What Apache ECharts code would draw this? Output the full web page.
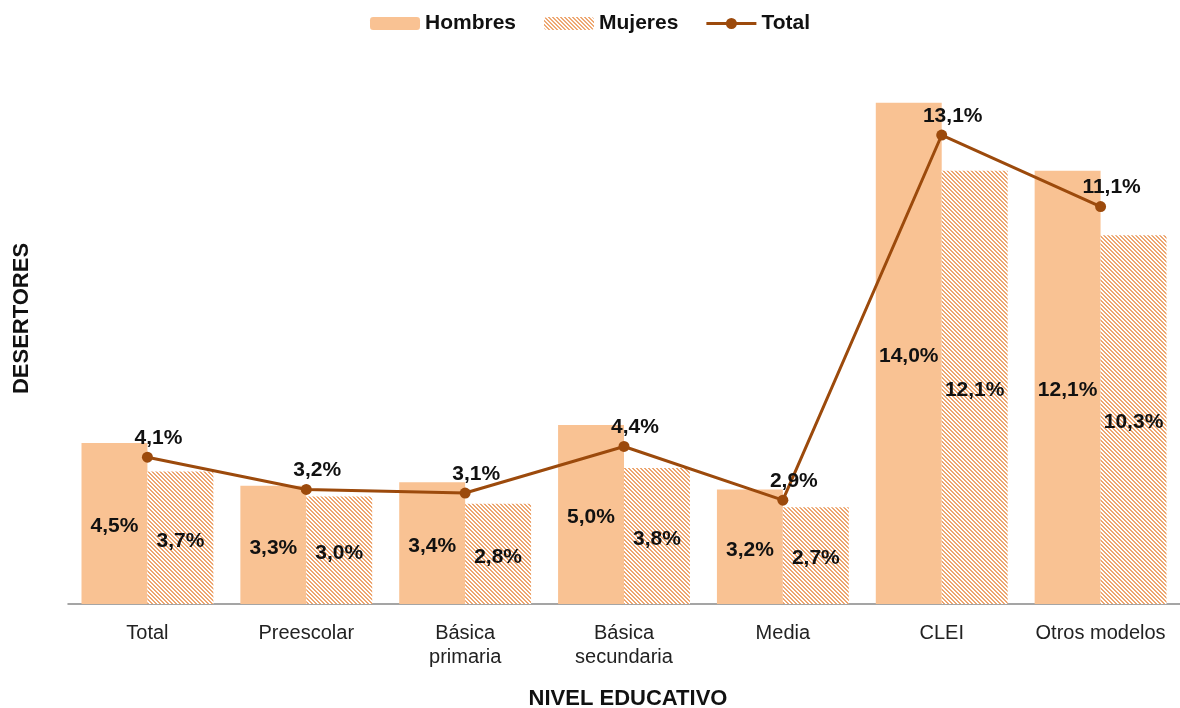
<!DOCTYPE html>
<html>
<head>
<meta charset="utf-8">
<style>
  html, body { margin: 0; padding: 0; background: #ffffff; }
  #chart { width: 1180px; height: 708px; }
</style>
<script src="https://cdn.jsdelivr.net/npm/echarts@6/dist/echarts.min.js"></script>
</head>
<body>
<div id="chart"></div>
<script>
// Tasa de deserción por nivel educativo (%)
const categories = ['Total', 'Preescolar', 'Básica\nprimaria', 'Básica\nsecundaria', 'Media', 'CLEI', 'Otros modelos'];
const hombres = [4.5, 3.3, 3.4, 5.0, 3.2, 14.0, 12.1];
const mujeres = [3.7, 3.0, 2.8, 3.8, 2.7, 12.1, 10.3];
const total = [4.1, 3.2, 3.1, 4.4, 2.9, 13.1, 11.1];

const FONT = '"Liberation Sans", Arial, sans-serif';
const fmt = p => p.value.toFixed(1).replace('.', ',') + '%';

// diagonal hatch for the women's bars
function hatch() {
  const c = document.createElement('canvas');
  c.width = 8; c.height = 8;
  const ctx = c.getContext('2d');
  ctx.fillStyle = '#ffffff';
  ctx.fillRect(0, 0, 8, 8);
  ctx.fillStyle = '#EDA670';
  for (let y = 0; y < 8; y++) {
    for (let x = 0; x < 8; x++) {
      const d = ((x - y) % 4 + 4) % 4;
      if (d < 2) ctx.fillRect(x, y, 1, 1);
    }
  }
  return c;
}
const pattern = { image: hatch(), repeat: 'repeat' };

const labelStyle = { fontSize: 21, fontWeight: 'bold', color: '#111', fontFamily: FONT };

const chart = echarts.init(document.getElementById('chart'));
chart.setOption({
  animation: false,
  textStyle: { fontFamily: FONT },
  legend: {
    top: 8,
    left: 'center',
    itemWidth: 50,
    itemHeight: 13,
    itemGap: 28,
    textStyle: { fontSize: 21, fontWeight: 'bold', color: '#111', fontFamily: FONT },
    data: [
      { name: 'Hombres' },
      { name: 'Mujeres' },
      { name: 'Total', icon: 'path://M0,9 H50 V12 H0 Z M30.5,10.5 A5.5,5.5 0 1 1 19.5,10.5 A5.5,5.5 0 1 1 30.5,10.5 Z' }
    ]
  },
  grid: { left: 68, right: 0, top: 67, bottom: 104, containLabel: false, outerBoundsMode: 'none' },
  xAxis: {
    type: 'category',
    data: categories,
    name: 'NIVEL EDUCATIVO',
    nameLocation: 'middle',
    nameGap: 84,
    nameTextStyle: { fontSize: 22, fontWeight: 'bold', color: '#111', fontFamily: FONT, padding: [0, 0, 0, 8] },
    axisLine: { lineStyle: { color: '#888', width: 1.5 } },
    axisTick: { show: false },
    axisLabel: { interval: 0, fontSize: 20, color: '#222', margin: 17, lineHeight: 24, fontFamily: FONT }
  },
  yAxis: {
    type: 'value',
    min: 0,
    max: 15,
    name: 'DESERTORES',
    nameLocation: 'middle',
    nameGap: 35,
    nameRotate: 90,
    nameTextStyle: { fontSize: 22, fontWeight: 'bold', color: '#111', fontFamily: FONT, padding: [0, 0, 0, 34] },
    axisLine: { show: false },
    axisTick: { show: false },
    axisLabel: { show: false },
    splitLine: { show: false }
  },
  series: [
    {
      name: 'Hombres',
      type: 'bar',
      data: hombres,
      barGap: '0%',
      barCategoryGap: '17%',
      itemStyle: { color: '#F9C293' },
      label: Object.assign({ show: true, position: 'inside', formatter: fmt, offset: [0, 3] }, labelStyle)
    },
    {
      name: 'Mujeres',
      type: 'bar',
      data: mujeres,
      itemStyle: { color: pattern },
      label: Object.assign({ show: true, position: 'inside', formatter: fmt, offset: [0, 3] }, labelStyle)
    },
    {
      name: 'Total',
      type: 'line',
      data: total,
      z: 5,
      symbol: 'circle',
      symbolSize: 11,
      lineStyle: { color: '#9C4A0C', width: 3 },
      itemStyle: { color: '#9C4A0C' },
      label: Object.assign({ show: true, position: 'top', distance: 3, offset: [11, 0], formatter: fmt }, labelStyle)
    }
  ]
});
</script>
</body>
</html>
